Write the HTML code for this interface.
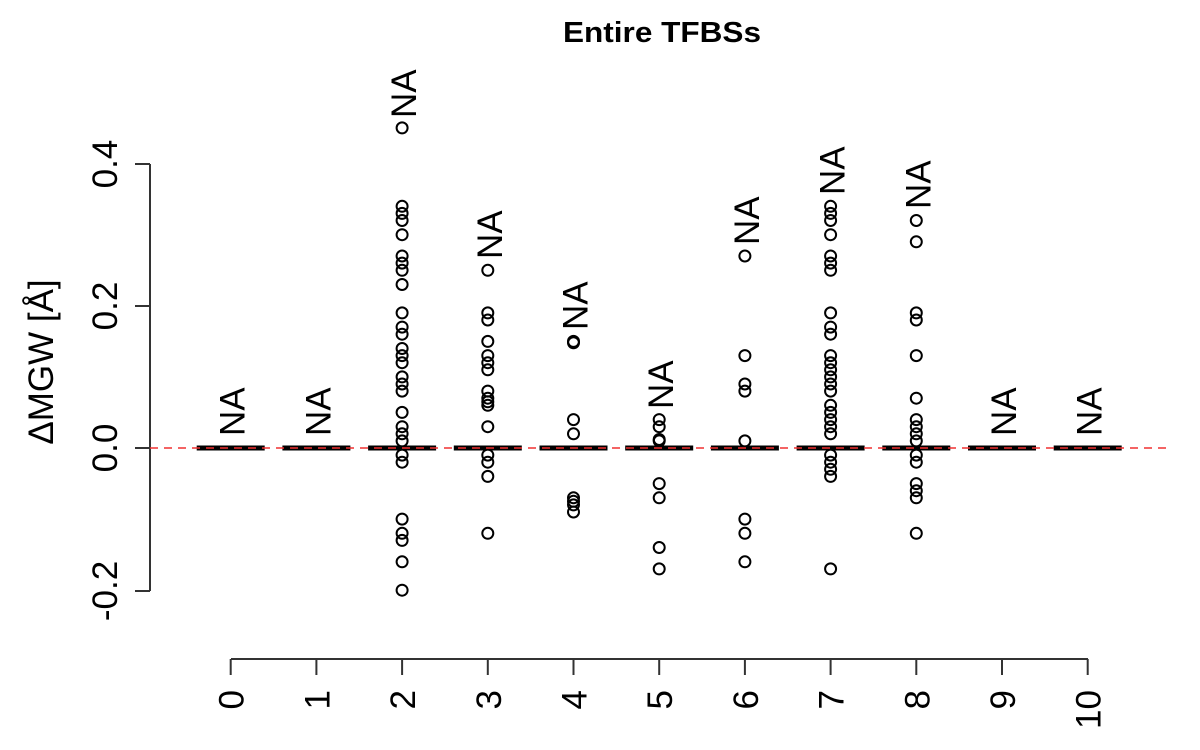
<!DOCTYPE html>
<html><head><meta charset="utf-8"><style>html,body{margin:0;padding:0;background:#fff}svg{display:block}</style></head>
<body>
<svg width="1200" height="750" xmlns="http://www.w3.org/2000/svg" font-family="Liberation Sans, sans-serif">
<text x="662" y="42" text-anchor="middle" font-weight="bold" font-size="29" textLength="198" lengthAdjust="spacingAndGlyphs">Entire TFBSs</text>
<g stroke="#333" stroke-width="2" fill="none">
<path d="M150 164V591M135 164H150M135 306H150M135 448H150M135 591H150"/>
<path d="M231 659H1088M230.7 659V675M316.4 659V675M402.1 659V675M487.8 659V675M573.5 659V675M659.2 659V675M744.9 659V675M830.6 659V675M916.3 659V675M1002 659V675M1087.7 659V675"/>
</g>
<g font-size="35" fill="#000">
<text transform="translate(117,164) rotate(-90)" text-anchor="middle">0.4</text>
<text transform="translate(117,306) rotate(-90)" text-anchor="middle">0.2</text>
<text transform="translate(117,448) rotate(-90)" text-anchor="middle">0.0</text>
<text transform="translate(117,591) rotate(-90)" text-anchor="middle">-0.2</text>
<text transform="translate(53,362) rotate(-90)" text-anchor="middle">ΔMGW [Å]</text>
</g>
<g font-size="35" fill="#000" text-anchor="end">
<text transform="translate(243.7,690) rotate(-90)">0</text>
<text transform="translate(329.4,690) rotate(-90)">1</text>
<text transform="translate(415.1,690) rotate(-90)">2</text>
<text transform="translate(500.8,690) rotate(-90)">3</text>
<text transform="translate(586.5,690) rotate(-90)">4</text>
<text transform="translate(672.2,690) rotate(-90)">5</text>
<text transform="translate(757.9,690) rotate(-90)">6</text>
<text transform="translate(843.6,690) rotate(-90)">7</text>
<text transform="translate(929.3,690) rotate(-90)">8</text>
<text transform="translate(1015,690) rotate(-90)">9</text>
<text transform="translate(1100.7,690) rotate(-90)">10</text>
</g>
<g font-size="35" fill="#000">
<text transform="translate(244.7,436) rotate(-90)">NA</text>
<text transform="translate(330.4,436) rotate(-90)">NA</text>
<text transform="translate(416.1,118) rotate(-90)">NA</text>
<text transform="translate(501.8,259) rotate(-90)">NA</text>
<text transform="translate(587.5,330) rotate(-90)">NA</text>
<text transform="translate(673.2,409) rotate(-90)">NA</text>
<text transform="translate(758.9,245) rotate(-90)">NA</text>
<text transform="translate(844.6,195) rotate(-90)">NA</text>
<text transform="translate(930.3,209) rotate(-90)">NA</text>
<text transform="translate(1016,436) rotate(-90)">NA</text>
<text transform="translate(1101.7,436) rotate(-90)">NA</text>
</g>
<g stroke="#000" stroke-width="5">
<path d="M196.7 448H264.7M282.4 448H350.4M368.1 448H436.1M453.8 448H521.8M539.5 448H607.5M625.2 448H693.2M710.9 448H778.9M796.6 448H864.6M882.3 448H950.3M968 448H1036M1053.7 448H1121.7"/>
</g>
<g fill="none" stroke="#000" stroke-width="2">
<circle cx="402.1" cy="127.9" r="5.5"/><circle cx="402.1" cy="206.3" r="5.5"/><circle cx="402.1" cy="213.4" r="5.5"/><circle cx="402.1" cy="220.5" r="5.5"/><circle cx="402.1" cy="234.7" r="5.5"/><circle cx="402.1" cy="256" r="5.5"/><circle cx="402.1" cy="263.1" r="5.5"/><circle cx="402.1" cy="270.3" r="5.5"/><circle cx="402.1" cy="284.5" r="5.5"/><circle cx="402.1" cy="312.9" r="5.5"/><circle cx="402.1" cy="327.1" r="5.5"/><circle cx="402.1" cy="334.2" r="5.5"/><circle cx="402.1" cy="348.5" r="5.5"/><circle cx="402.1" cy="355.6" r="5.5"/><circle cx="402.1" cy="362.7" r="5.5"/><circle cx="402.1" cy="376.9" r="5.5"/><circle cx="402.1" cy="384" r="5.5"/><circle cx="402.1" cy="391.1" r="5.5"/><circle cx="402.1" cy="412.4" r="5.5"/><circle cx="402.1" cy="426.7" r="5.5"/><circle cx="402.1" cy="433.8" r="5.5"/><circle cx="402.1" cy="440.9" r="5.5"/><circle cx="402.1" cy="455.1" r="5.5"/><circle cx="402.1" cy="462.2" r="5.5"/><circle cx="402.1" cy="519.1" r="5.5"/><circle cx="402.1" cy="533.3" r="5.5"/><circle cx="402.1" cy="540.4" r="5.5"/><circle cx="402.1" cy="561.8" r="5.5"/><circle cx="402.1" cy="590.2" r="5.5"/>
<circle cx="487.8" cy="270.3" r="5.5"/><circle cx="487.8" cy="312.9" r="5.5"/><circle cx="487.8" cy="320" r="5.5"/><circle cx="487.8" cy="341.4" r="5.5"/><circle cx="487.8" cy="355.6" r="5.5"/><circle cx="487.8" cy="362.7" r="5.5"/><circle cx="487.8" cy="369.8" r="5.5"/><circle cx="487.8" cy="391.1" r="5.5"/><circle cx="487.8" cy="398.2" r="5.5"/><circle cx="487.8" cy="401.8" r="5.5"/><circle cx="487.8" cy="405.3" r="5.5"/><circle cx="487.8" cy="426.7" r="5.5"/><circle cx="487.8" cy="455.1" r="5.5"/><circle cx="487.8" cy="462.2" r="5.5"/><circle cx="487.8" cy="476.4" r="5.5"/><circle cx="487.8" cy="533.3" r="5.5"/>
<circle cx="573.5" cy="341.4" r="5.5"/><circle cx="573.5" cy="342.8" r="5.5"/><circle cx="573.5" cy="419.6" r="5.5"/><circle cx="573.5" cy="433.8" r="5.5"/><circle cx="573.5" cy="497.8" r="5.5"/><circle cx="573.5" cy="501.3" r="5.5"/><circle cx="573.5" cy="504.9" r="5.5"/><circle cx="573.5" cy="512" r="5.5"/>
<circle cx="659.2" cy="419.6" r="5.5"/><circle cx="659.2" cy="426.7" r="5.5"/><circle cx="659.2" cy="439.5" r="5.5"/><circle cx="659.2" cy="440.9" r="5.5"/><circle cx="659.2" cy="483.6" r="5.5"/><circle cx="659.2" cy="497.8" r="5.5"/><circle cx="659.2" cy="547.5" r="5.5"/><circle cx="659.2" cy="568.9" r="5.5"/>
<circle cx="744.9" cy="256" r="5.5"/><circle cx="744.9" cy="355.6" r="5.5"/><circle cx="744.9" cy="384" r="5.5"/><circle cx="744.9" cy="391.1" r="5.5"/><circle cx="744.9" cy="440.9" r="5.5"/><circle cx="744.9" cy="519.1" r="5.5"/><circle cx="744.9" cy="533.3" r="5.5"/><circle cx="744.9" cy="561.8" r="5.5"/>
<circle cx="830.6" cy="206.3" r="5.5"/><circle cx="830.6" cy="213.4" r="5.5"/><circle cx="830.6" cy="220.5" r="5.5"/><circle cx="830.6" cy="234.7" r="5.5"/><circle cx="830.6" cy="256" r="5.5"/><circle cx="830.6" cy="263.1" r="5.5"/><circle cx="830.6" cy="270.3" r="5.5"/><circle cx="830.6" cy="312.9" r="5.5"/><circle cx="830.6" cy="327.1" r="5.5"/><circle cx="830.6" cy="334.2" r="5.5"/><circle cx="830.6" cy="355.6" r="5.5"/><circle cx="830.6" cy="362.7" r="5.5"/><circle cx="830.6" cy="369.8" r="5.5"/><circle cx="830.6" cy="376.9" r="5.5"/><circle cx="830.6" cy="384" r="5.5"/><circle cx="830.6" cy="391.1" r="5.5"/><circle cx="830.6" cy="405.3" r="5.5"/><circle cx="830.6" cy="412.4" r="5.5"/><circle cx="830.6" cy="419.6" r="5.5"/><circle cx="830.6" cy="426.7" r="5.5"/><circle cx="830.6" cy="433.8" r="5.5"/><circle cx="830.6" cy="455.1" r="5.5"/><circle cx="830.6" cy="462.2" r="5.5"/><circle cx="830.6" cy="469.3" r="5.5"/><circle cx="830.6" cy="476.4" r="5.5"/><circle cx="830.6" cy="568.9" r="5.5"/>
<circle cx="916.3" cy="220.5" r="5.5"/><circle cx="916.3" cy="241.8" r="5.5"/><circle cx="916.3" cy="312.9" r="5.5"/><circle cx="916.3" cy="320" r="5.5"/><circle cx="916.3" cy="355.6" r="5.5"/><circle cx="916.3" cy="398.2" r="5.5"/><circle cx="916.3" cy="419.6" r="5.5"/><circle cx="916.3" cy="426.7" r="5.5"/><circle cx="916.3" cy="433.8" r="5.5"/><circle cx="916.3" cy="440.9" r="5.5"/><circle cx="916.3" cy="455.1" r="5.5"/><circle cx="916.3" cy="462.2" r="5.5"/><circle cx="916.3" cy="483.6" r="5.5"/><circle cx="916.3" cy="490.7" r="5.5"/><circle cx="916.3" cy="497.8" r="5.5"/><circle cx="916.3" cy="533.3" r="5.5"/>
</g>
<line x1="150" y1="448" x2="1170" y2="448" stroke="#f03030" stroke-width="1.6" stroke-dasharray="8,6"/>
</svg>
</body></html>
